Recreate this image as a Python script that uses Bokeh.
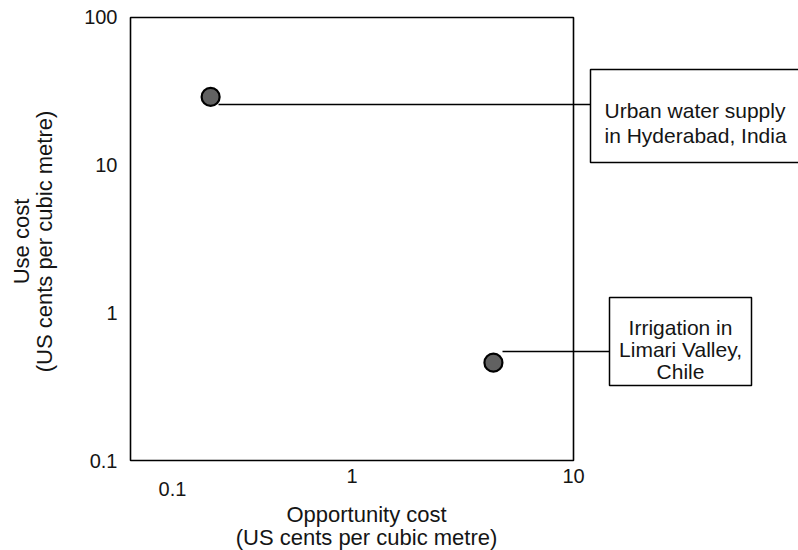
import math
from bokeh.plotting import figure
from bokeh.models import Range1d, FixedTicker, ColumnDataSource
from bokeh.embed import file_html
from bokeh.resources import INLINE
from bokeh.core.properties import value

# ---------------- data ----------------
sites = ["Urban water supply in Hyderabad, India", "Irrigation in Limari Valley, Chile"]
opportunity_cost = [0.23, 4.35]   # US cents per cubic metre
use_cost = [29.0, 0.46]           # US cents per cubic metre
x_ticks = [0.1, 1, 10]
y_ticks = [0.1, 1, 10, 100]
x_title = ["Opportunity cost", "(US cents per cubic metre)"]
y_title = ["Use cost", "(US cents per cubic metre)"]
urban_lines = ["Urban water supply", "in Hyderabad, India"]
chile_lines = ["Irrigation in", "Limari Valley,", "Chile"]

# ---------------- layout helpers (canvas pixels -> data) ----------------
FONT = "Liberation Sans"
INK = "#151515"
W, H = 798, 550
X_DEC = 221.5     # px per decade on x
Y_DEC = 147.67    # px per decade on y
X0 = 130          # canvas x of x=0.1
Y0 = 460          # canvas y of y=0.1


def px2x(px):
    return 0.1 * 10 ** ((px - X0) / X_DEC)


def px2y(py):
    return 0.1 * 10 ** ((Y0 - py) / Y_DEC)


p = figure(width=W, height=H, x_axis_type="log", y_axis_type="log",
           x_range=Range1d(px2x(0), px2x(W)),
           y_range=Range1d(px2y(H), px2y(0)),
           output_backend="svg", toolbar_location=None, title=None,
           min_border=0)
p.outline_line_color = None
p.grid.visible = False
p.background_fill_color = "white"
p.border_fill_color = "white"

for ax in (p.xaxis[0], p.yaxis[0]):
    ax.axis_line_color = None
    ax.major_tick_line_color = None
    ax.minor_tick_line_color = None
    ax.major_tick_out = 0
    ax.major_tick_in = 0
    ax.minor_tick_out = 0
    ax.major_label_text_font = FONT
    ax.major_label_text_font_size = "20px"
    ax.major_label_text_color = INK

# axes drawn on the edges of the chart box
p.xaxis.fixed_location = min(y_ticks)
p.yaxis.fixed_location = min(x_ticks)
p.xaxis.ticker = FixedTicker(ticks=[t for t in x_ticks if t != min(x_ticks)])
p.xaxis.major_label_overrides = {t: f"{t:g}" for t in x_ticks}
p.xaxis.major_label_standoff = 8
p.yaxis.ticker = FixedTicker(ticks=y_ticks)
p.yaxis.major_label_overrides = {t: f"{t:g}" for t in y_ticks}
p.yaxis.major_label_standoff = 13

# chart box
p.quad(left=[min(x_ticks)], right=[max(x_ticks)], bottom=[min(y_ticks)], top=[max(y_ticks)],
       fill_color=None, line_color="black", line_width=1.6)

# leader lines
p.segment(x0=[px2x(218), px2x(502)], y0=[px2y(104), px2y(351)],
          x1=[px2x(590), px2x(609)], y1=[px2y(104), px2y(351)],
          line_color="black", line_width=1.5)

# annotation boxes
p.quad(left=[px2x(590), px2x(609)], right=[px2x(840), px2x(751)],
       top=[px2y(69), px2y(297)], bottom=[px2y(162), px2y(385)],
       fill_color="white", line_color="black", line_width=1.5)

# points
src = ColumnDataSource(dict(x=opportunity_cost, y=use_cost, site=sites))
p.scatter("x", "y", source=src, size=18, fill_color="#616161",
          line_color="black", line_width=2.2)

txt = dict(text_font=value(FONT), text_font_size="21px", text_color=INK)
ttl = dict(text_font=value(FONT), text_font_size="22px", text_color=INK)

# box texts
p.text(x=[px2x(604)] * len(urban_lines), y=[px2y(110), px2y(135)], text=urban_lines,
       text_align="left", text_baseline="alphabetic", **txt)
p.text(x=[px2x(680)] * len(chile_lines), y=[px2y(327), px2y(349), px2y(371)], text=chile_lines,
       text_align="center", text_baseline="alphabetic", **txt)

# x tick label 0.1 (set off to the right, as in the original)
p.text(x=[px2x(172)], y=[px2y(488)], text=[f"{min(x_ticks):g}"],
       text_align="center", text_baseline="middle",
       text_font=value(FONT), text_font_size="20px", text_color=INK)

# x axis title
p.text(x=[px2x(366)] * 2, y=[px2y(514), px2y(537)], text=x_title,
       text_align="center", text_baseline="middle", **ttl)

# y axis title (rotated)
p.text(x=[px2x(21), px2x(44)], y=[px2y(241)] * 2, text=y_title, angle=math.pi / 2,
       text_align="center", text_baseline="middle", **ttl)

open("out.html", "w").write(file_html(p, INLINE))
